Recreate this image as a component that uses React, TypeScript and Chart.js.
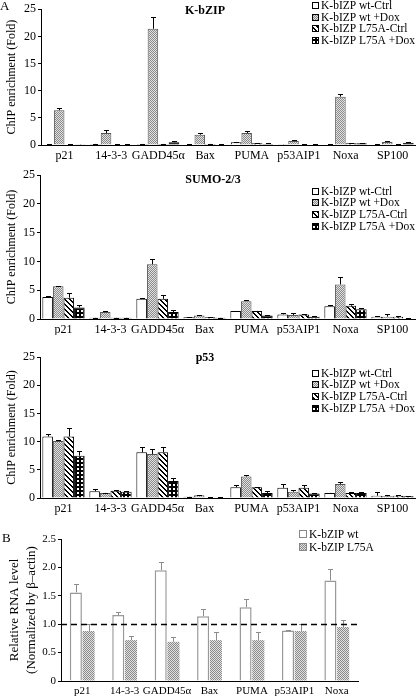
import React, { useEffect, useRef } from 'react';
import { Chart, registerables } from 'chart.js';

Chart.register(...registerables);

const FONT = '"Liberation Serif", "Times New Roman", serif';

// ---------- data ----------
const genes = ['p21', '14-3-3', 'GADD45α', 'Bax', 'PUMA', 'p53AIP1', 'Noxa', 'SP100'];
const genesB = ['p21', '14-3-3', 'GADD45α', 'Bax', 'PUMA', 'p53AIP1', 'Noxa'];
const seriesChip = ['K-bIZP wt-Ctrl', 'K-bIZP wt +Dox', 'K-bIZP L75A-Ctrl', 'K-bIZP L75A +Dox'];
const seriesRna = ['K-bZIP wt', 'K-bZIP L75A'];
const yTicksChip = ['0', '5', '10', '15', '20', '25'];
const yTicksRna = ['0', '0.5', '1.0', '1.5', '2.0', '2.5'];

// Panel A: K-bZIP ChIP
const kbzWtCtrl = [0.1, 0.2, 0.2, 0.1, 0.5, 0.05, 0.08, 0.1];
const kbzWtDox = [6.4, 2.2, 21.4, 1.9, 2.2, 0.75, 8.9, 0.55];
const kbzMutCtrl = [0.1, 0.1, 0.2, 0.2, 0.3, 0.1, 0.3, 0.1];
const kbzMutDox = [0.05, 0.1, 0.5, 0.1, 0.2, 0.1, 0.3, 0.4];
const kbzWtCtrlErr = [0.05, 0.05, 0.05, 0.05, 0.05, 0.02, 0.02, 0.05];
const kbzWtDoxErr = [0.4, 0.5, 2.1, 0.4, 0.4, 0.1, 0.5, 0.1];
const kbzMutCtrlErr = [0.05, 0.05, 0.05, 0.05, 0.05, 0.05, 0.05, 0.05];
const kbzMutDoxErr = [0.02, 0.05, 0.15, 0.05, 0.1, 0.05, 0.05, 0.1];

// Panel A: SUMO-2/3 ChIP
const sumoWtCtrl = [3.8, 0.2, 3.5, 0.3, 1.4, 0.8, 2.2, 0.4];
const sumoWtDox = [5.7, 1.2, 9.5, 0.6, 3.1, 0.7, 6.0, 0.4];
const sumoMutCtrl = [3.7, 0.2, 3.5, 0.3, 1.4, 0.8, 2.3, 0.4];
const sumoMutDox = [2.0, 0.2, 1.2, 0.2, 0.6, 0.4, 1.7, 0.1];
const sumoWtCtrlErr = [0.15, 0.05, 0.1, 0.05, 0.05, 0.3, 0.15, 0.05];
const sumoWtDoxErr = [0.05, 0.2, 1.0, 0.05, 0.15, 0.4, 1.3, 0.5];
const sumoMutCtrlErr = [0.9, 0.05, 0.7, 0.05, 0.05, 0.15, 0.35, 0.1];
const sumoMutDoxErr = [0.4, 0.05, 0.4, 0.05, 0.05, 0.05, 0.15, 0.05];

// Panel A: p53 ChIP
const p53WtCtrl = [10.9, 1.2, 8.1, 0.2, 1.9, 1.8, 0.9, 0.4];
const p53WtDox = [10.1, 0.9, 7.8, 0.5, 3.8, 1.1, 2.5, 0.3];
const p53MutCtrl = [10.9, 1.3, 8.1, 0.1, 1.9, 1.8, 0.9, 0.4];
const p53MutDox = [7.5, 1.1, 3.0, 0.1, 0.9, 0.8, 0.9, 0.3];
const p53WtCtrlErr = [0.4, 0.4, 0.9, 0.05, 0.4, 0.6, 0.05, 0.6];
const p53WtDoxErr = [0.1, 0.05, 0.9, 0.05, 0.3, 0.3, 0.4, 0.3];
const p53MutCtrlErr = [1.6, 0.05, 0.9, 0.05, 0.1, 0.5, 0.1, 0.05];
const p53MutDoxErr = [0.8, 0.1, 0.5, 0.05, 0.3, 0.1, 0.2, 0.05];

// Panel B: relative RNA level
const rnaWt = [1.56, 1.16, 1.95, 1.14, 1.30, 0.89, 1.77];
const rnaMut = [0.88, 0.72, 0.69, 0.72, 0.72, 0.88, 0.95];
const rnaWtErr = [0.15, 0.06, 0.15, 0.12, 0.14, 0.01, 0.21];
const rnaMutErr = [0.12, 0.08, 0.09, 0.15, 0.15, 0.12, 0.13];
const rnaBaseline = 1.0;

// ---------- patterns ----------
function makePattern(kind: string): CanvasPattern | string {
  const c = document.createElement('canvas');
  const ctx = c.getContext('2d');
  if (!ctx) return '#999';
  if (kind === 'check') {
    c.width = 2; c.height = 2;
    ctx.fillStyle = '#e2e2e2'; ctx.fillRect(0, 0, 2, 2);
    ctx.fillStyle = '#8a8a8a'; ctx.fillRect(0, 0, 1, 1); ctx.fillRect(1, 1, 1, 1);
  } else if (kind === 'stripe') {
    c.width = 5; c.height = 5;
    ctx.fillStyle = '#ffffff'; ctx.fillRect(0, 0, 5, 5);
    ctx.fillStyle = '#000000';
    for (let i = 0; i < 5; i++) {
      ctx.fillRect(i, i, 1, 1);
      ctx.fillRect((i + 1) % 5, i, 1, 1);
    }
  } else {
    c.width = 4; c.height = 4;
    ctx.fillStyle = '#000000'; ctx.fillRect(0, 0, 4, 4);
    ctx.fillStyle = '#ffffff'; ctx.fillRect(1, 1, 2, 2);
  }
  return ctx.createPattern(c, 'repeat') as CanvasPattern;
}

// ---------- plugins ----------
const errorBarPlugin = {
  id: 'errbars',
  afterDatasetsDraw(chart: any) {
    const ctx = chart.ctx;
    const y = chart.scales.y;
    chart.data.datasets.forEach((ds: any, i: number) => {
      if (!ds.errors) return;
      const meta = chart.getDatasetMeta(i);
      ctx.save();
      ctx.strokeStyle = ds.errColor || '#000';
      ctx.lineWidth = 1;
      meta.data.forEach((el: any, j: number) => {
        const e = ds.errors[j];
        if (!e) return;
        const v = ds.data[j];
        const yt = Math.round(y.getPixelForValue(v + e)) + 0.5;
        const yb = y.getPixelForValue(v);
        const x = Math.round(el.x) + 0.5;
        ctx.beginPath();
        ctx.moveTo(x, yb);
        ctx.lineTo(x, yt);
        ctx.moveTo(x - 2.5, yt);
        ctx.lineTo(x + 2.5, yt);
        ctx.stroke();
      });
      ctx.restore();
    });
  },
};

const decorPlugin = {
  id: 'decor',
  afterDraw(chart: any, _args: any, opts: any) {
    const ctx = chart.ctx;
    ctx.save();
    // dashed reference line
    if (opts.dashed !== undefined && opts.dashed !== null) {
      const yy = Math.round(chart.scales.y.getPixelForValue(opts.dashed)) + 0.5;
      ctx.strokeStyle = '#000';
      ctx.lineWidth = 1.5;
      ctx.setLineDash([6, 4]);
      ctx.beginPath();
      ctx.moveTo(chart.chartArea.left, yy);
      ctx.lineTo(chart.chartArea.right, yy);
      ctx.stroke();
      ctx.setLineDash([]);
    }
    ctx.fillStyle = '#000';
    // panel title
    if (opts.title) {
      ctx.font = `bold 12px ${FONT}`;
      ctx.textAlign = 'center';
      ctx.textBaseline = 'middle';
      ctx.fillText(opts.title.text, opts.title.x, opts.title.y);
    }
    // panel letter
    if (opts.letter) {
      ctx.font = `13px ${FONT}`;
      ctx.textAlign = 'left';
      ctx.textBaseline = 'middle';
      ctx.fillText(opts.letter.text, opts.letter.x, opts.letter.y);
    }
    // legend
    if (opts.legend) {
      const L = opts.legend;
      ctx.font = `${L.fontSize}px ${FONT}`;
      ctx.textAlign = 'left';
      ctx.textBaseline = 'middle';
      chart.data.datasets.forEach((ds: any, i: number) => {
        const cy = L.y + i * L.dy;
        const s = L.box;
        const bx = L.x;
        const by = Math.round(cy - s / 2);
        ctx.fillStyle = ds.backgroundColor;
        ctx.fillRect(bx, by, s, s);
        ctx.strokeStyle = L.boxBorder;
        ctx.lineWidth = 1;
        ctx.strokeRect(bx + 0.5, by + 0.5, s - 1, s - 1);
        ctx.fillStyle = '#000';
        ctx.fillText(ds.label, bx + s + 2, cy + 0.5);
      });
    }
    ctx.restore();
  },
};

type Panel = {
  top: number; height: number; padTop: number; padRight: number; xH: number; yW: number;
  labels: string[]; datasets: any[]; yMax: number; yStep: number; yTickLabels: string[];
  yTitle: string | string[]; yTitleSize: number; yTitlePad: number; tickSize: number; xTickSize: number;
  catPct: number; barPct: number; decor: any;
};

function buildConfig(p: Panel): any {
  return {
    type: 'bar',
    data: { labels: p.labels, datasets: p.datasets },
    options: {
      responsive: false,
      animation: false,
      devicePixelRatio: 1,
      layout: { padding: { top: p.padTop, right: p.padRight, left: 0, bottom: 0 } },
      datasets: { bar: { categoryPercentage: p.catPct, barPercentage: p.barPct } },
      plugins: {
        legend: { display: false },
        tooltip: { enabled: false },
        title: { display: false },
        decor: p.decor,
      },
      scales: {
        x: {
          grid: { display: false, drawTicks: false },
          border: { display: true, color: '#000', width: 1 },
          ticks: { color: '#000', padding: 4, font: { family: FONT, size: p.xTickSize }, maxRotation: 0, autoSkip: false },
          afterFit: (s: any) => { s.height = p.xH; },
        },
        y: {
          min: 0,
          max: p.yMax,
          grid: { display: true, drawOnChartArea: false, drawTicks: true, tickLength: 3, color: '#000' },
          border: { display: true, color: '#000', width: 1 },
          ticks: {
            stepSize: p.yStep,
            color: '#000',
            padding: 2,
            font: { family: FONT, size: p.tickSize },
            callback: (_v: any, i: number) => p.yTickLabels[i],
          },
          title: {
            display: true,
            text: p.yTitle,
            color: '#000',
            font: { family: FONT, size: p.yTitleSize, lineHeight: 1.3 },
            padding: { top: p.yTitlePad, bottom: 0 },
          },
          afterFit: (s: any) => { s.width = p.yW; },
        },
      },
    },
    plugins: [errorBarPlugin, decorPlugin],
  };
}

function chipDatasets(vals: number[][], errs: number[][], fills: any[]) {
  const borders = ['#000', '#555', '#000', '#000'];
  return seriesChip.map((label, i) => ({
    label,
    data: vals[i],
    errors: errs[i],
    errColor: '#000',
    backgroundColor: fills[i],
    borderColor: borders[i],
    borderWidth: 1,
    borderSkipped: 'bottom',
  }));
}

export default function App() {
  const refs = [useRef<HTMLCanvasElement>(null), useRef<HTMLCanvasElement>(null), useRef<HTMLCanvasElement>(null), useRef<HTMLCanvasElement>(null)];

  const dims = [
    { top: 0, height: 165 },
    { top: 165, height: 170 },
    { top: 335, height: 181 },
    { top: 516, height: 180 },
  ];

  useEffect(() => {
    const check = makePattern('check');
    const stripe = makePattern('stripe');
    const dots = makePattern('dots');
    const fills = ['#ffffff', check, stripe, dots];

    const chipLegend = (y: number) => ({ x: 312, y, dy: 11.7, box: 7, fontSize: 11.5, boxBorder: '#000' });

    const panels: Panel[] = [
      {
        ...dims[0], padTop: 3, padRight: 0, xH: 20, yW: 41,
        labels: genes,
        datasets: chipDatasets([kbzWtCtrl, kbzWtDox, kbzMutCtrl, kbzMutDox], [kbzWtCtrlErr, kbzWtDoxErr, kbzMutCtrlErr, kbzMutDoxErr], fills),
        yMax: 25, yStep: 5, yTickLabels: yTicksChip,
        yTitle: 'ChIP enrichment (Fold)', yTitleSize: 12, yTitlePad: 4, tickSize: 12, xTickSize: 12,
        catPct: 0.9, barPct: 1.0,
        decor: { title: { text: 'K-bZIP', x: 205, y: 11 }, letter: { text: 'A', x: 0, y: 7 }, legend: chipLegend(5.5) },
      },
      {
        ...dims[1], padTop: 10, padRight: 0, xH: 16, yW: 40,
        labels: genes,
        datasets: chipDatasets([sumoWtCtrl, sumoWtDox, sumoMutCtrl, sumoMutDox], [sumoWtCtrlErr, sumoWtDoxErr, sumoMutCtrlErr, sumoMutDoxErr], fills),
        yMax: 25, yStep: 5, yTickLabels: yTicksChip,
        yTitle: 'ChIP enrichment (Fold)', yTitleSize: 12, yTitlePad: 4, tickSize: 12, xTickSize: 12,
        catPct: 0.9, barPct: 1.0,
        decor: { title: { text: 'SUMO-2/3', x: 213, y: 15 }, legend: chipLegend(26) },
      },
      {
        ...dims[2], padTop: 22, padRight: 0, xH: 18, yW: 40,
        labels: genes,
        datasets: chipDatasets([p53WtCtrl, p53WtDox, p53MutCtrl, p53MutDox], [p53WtCtrlErr, p53WtDoxErr, p53MutCtrlErr, p53MutDoxErr], fills),
        yMax: 25, yStep: 5, yTickLabels: yTicksChip,
        yTitle: 'ChIP enrichment (Fold)', yTitleSize: 12, yTitlePad: 4, tickSize: 12, xTickSize: 12,
        catPct: 0.9, barPct: 1.0,
        decor: { title: { text: 'p53', x: 205, y: 23 }, legend: chipLegend(38) },
      },
      {
        ...dims[3], padTop: 23, padRight: 58, xH: 15, yW: 61,
        labels: genesB,
        datasets: [
          { label: seriesRna[0], data: rnaWt, errors: rnaWtErr, errColor: '#8c8c8c', backgroundColor: '#ffffff', borderColor: '#999999', borderWidth: 1.5, borderSkipped: 'bottom' },
          { label: seriesRna[1], data: rnaMut, errors: rnaMutErr, errColor: '#8c8c8c', backgroundColor: check, borderColor: '#aaaaaa', borderWidth: 0 },
        ],
        yMax: 2.5, yStep: 0.5, yTickLabels: yTicksRna,
        yTitle: ['Relative RNA level', '(Normalized by β–actin)'], yTitleSize: 13, yTitlePad: 6, tickSize: 11, xTickSize: 11,
        catPct: 0.6, barPct: 0.95,
        decor: { dashed: rnaBaseline, letter: { text: 'B', x: 2, y: 23 }, legend: { x: 299, y: 18, dy: 13, box: 8, fontSize: 11.5, boxBorder: '#888' } },
      },
    ];

    const charts = panels.map((p, i) => {
      const cv = refs[i].current as HTMLCanvasElement;
      return new Chart(cv, buildConfig(p));
    });
    return () => { charts.forEach((c) => c.destroy()); };
  }, []);

  return (
    <div style={{ position: 'absolute', left: 0, top: 0, width: 416, height: 696, background: '#fff' }}>
      {dims.map((d, i) => (
        <canvas
          key={i}
          ref={refs[i]}
          width={416}
          height={d.height}
          style={{ position: 'absolute', left: 0, top: d.top, width: 416, height: d.height, display: 'block' }}
        />
      ))}
    </div>
  );
}
